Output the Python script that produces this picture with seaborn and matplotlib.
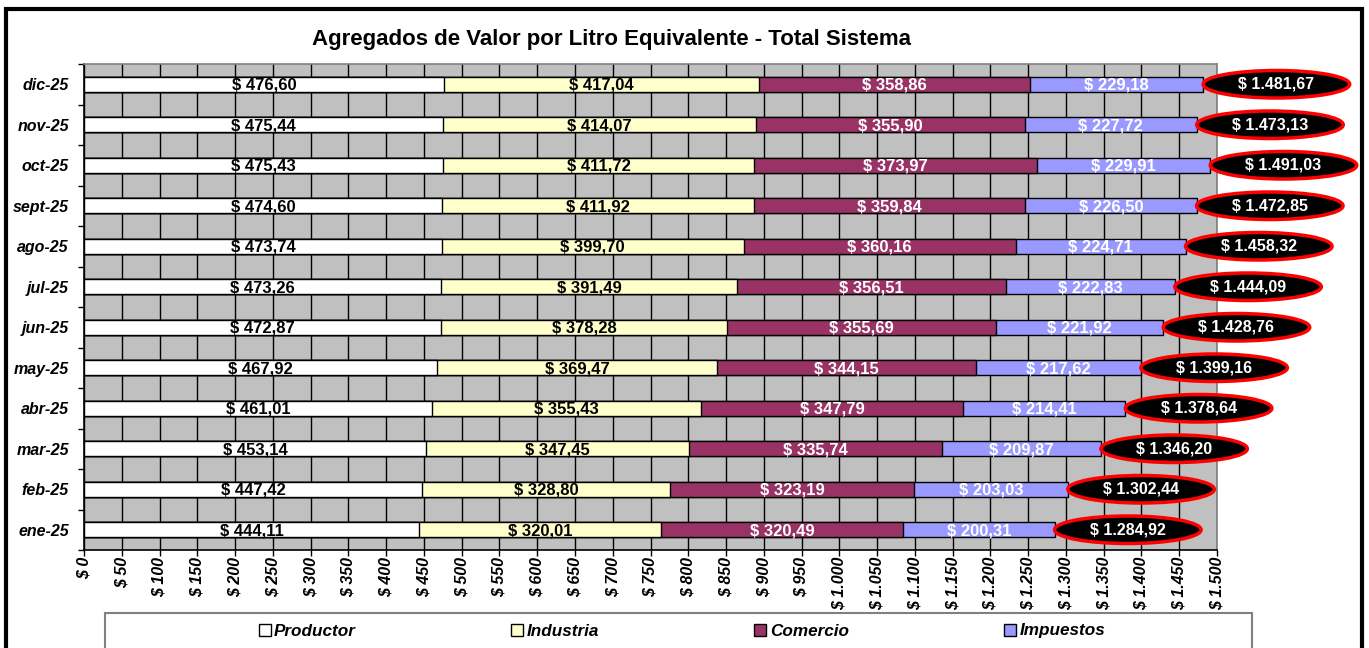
import numpy as np
import pandas as pd
import seaborn as sns
import matplotlib.pyplot as plt
from matplotlib.patches import Ellipse, Rectangle, Patch

sns.set_style("white")
plt.rcParams['font.family'] = ['Liberation Sans', 'DejaVu Sans']
plt.rcParams['text.color'] = 'black'
plt.rcParams['xtick.color'] = 'black'
plt.rcParams['ytick.color'] = 'black'
plt.rcParams['axes.labelcolor'] = 'black'

# datos (orden de arriba hacia abajo)
meses = ['dic-25', 'nov-25', 'oct-25', 'sept-25', 'ago-25', 'jul-25',
         'jun-25', 'may-25', 'abr-25', 'mar-25', 'feb-25', 'ene-25']
productor = [476.60, 475.44, 475.43, 474.60, 473.74, 473.26,
             472.87, 467.92, 461.01, 453.14, 447.42, 444.11]
industria = [417.04, 414.07, 411.72, 411.92, 399.70, 391.49,
             378.28, 369.47, 355.43, 347.45, 328.80, 320.01]
comercio = [358.86, 355.90, 373.97, 359.84, 360.16, 356.51,
            355.69, 344.15, 347.79, 335.74, 323.19, 320.49]
impuestos = [229.18, 227.72, 229.91, 226.50, 224.71, 222.83,
             221.92, 217.62, 214.41, 209.87, 203.03, 200.31]
totales = [1481.67, 1473.13, 1491.03, 1472.85, 1458.32, 1444.09,
           1428.76, 1399.16, 1378.64, 1346.20, 1302.44, 1284.92]

series = ['Productor', 'Industria', 'Comercio', 'Impuestos']
colores = ['#FFFFFF', '#FFFFCC', '#993366', '#9999FF']
color_txt = ['black', 'black', 'white', 'white']

df = pd.DataFrame({'Mes': meses, 'Productor': productor, 'Industria': industria,
                   'Comercio': comercio, 'Impuestos': impuestos})


def fmt(v, dec=2):
    s = f"{v:,.{dec}f}"
    s = s.replace(',', 'X').replace('.', ',').replace('X', '.')
    return f"$ {s}"


fig = plt.figure(figsize=(13.69, 6.48), dpi=100)
ax = fig.add_axes([84 / 1369, 1 - 550 / 648, (1217 - 84) / 1369, (550 - 64) / 648])
ax.set_facecolor('#C0C0C0')

# barras apiladas: se dibujan acumulados de mayor a menor
cum = df[series].cumsum(axis=1)
for i in range(len(series) - 1, -1, -1):
    sns.barplot(x=cum[series[i]], y=df['Mes'], order=meses, orient='h',
                color=colores[i], saturation=1, width=0.37,
                edgecolor='black', linewidth=1, ax=ax, zorder=3)

# etiquetas de cada segmento
for j in range(len(meses)):
    left = 0
    for i, s in enumerate(series):
        v = df[s][j]
        ax.text(left + v / 2, j + 0.02, fmt(v), ha='center', va='center',
                fontsize=12, fontweight='bold', color=color_txt[i], zorder=5)
        left += v

# totales en elipses
for j, t in enumerate(totales):
    e = Ellipse((t + 97, j), width=194, height=0.68, facecolor='black',
                edgecolor='#FF0000', linewidth=2.5, clip_on=False, zorder=6)
    ax.add_patch(e)
    ax.text(t + 97, j, fmt(t), ha='center', va='center', fontsize=11.5,
            fontweight='bold', color='white', zorder=7, clip_on=False)

ax.set_xlim(0, 1500)
ax.set_ylim(11.5, -0.5)
xt = np.arange(0, 1501, 50)
ax.set_xticks(xt)
ax.set_xticklabels([fmt(v, 0) for v in xt], rotation=90, fontsize=11.5,
                   fontweight='bold', fontstyle='italic')
ax.set_yticks(range(len(meses)))
ax.set_yticklabels(meses, fontsize=11.5, fontweight='bold', fontstyle='italic')
ax.set_yticks(np.arange(-0.5, 12, 1), minor=True)
ax.tick_params(axis='y', which='major', length=0, pad=11)
ax.tick_params(axis='y', which='minor', length=4, width=1, color='black', direction='out', left=True)
ax.tick_params(axis='x', which='major', length=4, width=1, color='black', direction='out', pad=1, bottom=True)
ax.set_xlabel('')
ax.set_ylabel('')

ax.grid(axis='x', color='black', linewidth=1, zorder=0)
ax.grid(axis='y', visible=False)
ax.set_axisbelow(True)
for side in ['left', 'bottom']:
    ax.spines[side].set_color('black')
    ax.spines[side].set_linewidth(1.2)
for side in ['top', 'right']:
    ax.spines[side].set_color('#808080')
    ax.spines[side].set_linewidth(1.2)

fig.text(611 / 1369, 1 - 40 / 648, 'Agregados de Valor por Litro Equivalente - Total Sistema',
         ha='center', va='center', fontsize=16, fontweight='bold')

# leyenda
fig.patches.append(Rectangle((105 / 1369, -0.05), (1252 - 105) / 1369, (648 - 613) / 648 + 0.05,
                             transform=fig.transFigure, facecolor='white',
                             edgecolor='#808080', linewidth=1.5, zorder=1))
handles = [Patch(facecolor=c, edgecolor='black', linewidth=1) for c in colores]
leg = fig.legend(handles, series, loc='center', bbox_to_anchor=(682 / 1369, 1 - 631 / 648),
                 ncol=4, frameon=False, handlelength=0.7, handleheight=0.7,
                 handletextpad=0.2, columnspacing=9.1,
                 prop={'size': 12.3, 'weight': 'bold', 'style': 'italic'})
leg.set_zorder(2)

# marco exterior
fig.patches.append(Rectangle((6 / 1369, -0.05), (1362 - 6) / 1369, 1 - 9 / 648 + 0.05,
                             transform=fig.transFigure, facecolor='none',
                             edgecolor='black', linewidth=3, zorder=0))

plt.savefig('out.png', dpi=100)
